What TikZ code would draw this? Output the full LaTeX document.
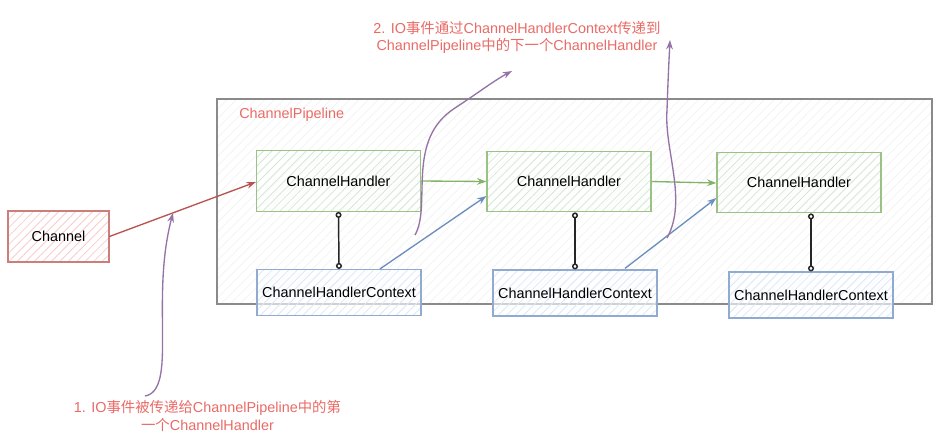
\documentclass[tikz,border=0pt]{standalone}
\usepackage{fontspec}
\setmainfont{Liberation Sans}
\newfontfamily\cjk{Noto Sans CJK SC}
\usetikzlibrary{arrows.meta,patterns.meta,calc}
\definecolor{redS}{HTML}{B85450}
\definecolor{redF}{HTML}{F8CECC}
\definecolor{greenS}{HTML}{82B366}
\definecolor{greenF}{HTML}{D5E8D4}
\definecolor{blueS}{HTML}{6C8EBF}
\definecolor{blueF}{HTML}{DAE8FC}
\definecolor{purpleS}{HTML}{9673A6}
\definecolor{noteC}{HTML}{EA6B66}
\definecolor{pipeS}{HTML}{8A8A8A}
\begin{document}
\begin{tikzpicture}[x=0.75pt,y=-0.75pt,
  font=\fontsize{10.8}{13}\selectfont,
  hatch/.style={preaction={fill=white,fill opacity=0.6},
    pattern={Lines[angle=45,distance=4.5pt,line width=0.6pt]}},
  box/.style={draw, line width=0.9pt, inner sep=0pt, anchor=center},
  chbox/.style={box, draw=redS!75, hatch, pattern color=redF},
  hbox/.style={box, draw=greenS!80, hatch, pattern color=greenF, minimum width=123pt, minimum height=45.5pt},
  cbox/.style={box, draw=blueS!75, hatch, pattern color=blueF, minimum width=123pt, minimum height=34.5pt},
  redarrow/.style={draw=redS, line width=1pt, -{Stealth[length=7pt,width=5pt,open]}},
  greenarrow/.style={draw=greenS, line width=1pt, -{Stealth[length=7pt,width=5pt,open]}},
  bluearrow/.style={draw=blueS, line width=1pt, -{Stealth[length=7pt,width=5pt,open]}},
  purplearrow/.style={draw=purpleS, line width=1pt, -{Stealth[length=7pt,width=5pt,open]}},
  link/.style={draw=black!85, line width=1.1pt, {Circle[open,length=4.5pt]}-{Circle[open,length=4.5pt]}},
  note/.style={text=noteC, align=center, inner sep=0pt}
]
\useasboundingbox (0,0) rectangle (946,440);
\fill[white] (0,0) rectangle (946,440);

% pipeline container
\node[draw=pipeS, line width=0.8pt, pattern={Lines[angle=45,distance=5pt,line width=0.4pt]}, pattern color=black!6,
  minimum width=536.25pt, minimum height=153.75pt, inner sep=0pt] (pipe) at (574.5,201.5) {};
\node[note, anchor=west] (pipelabel) at (239,115) {ChannelPipeline};

% channel
\node[chbox, minimum width=75.75pt, minimum height=38.25pt] (ch) at (58.5,236.5) {Channel};

% handlers
\node[hbox] (h1) at (338.5,181) {ChannelHandler};
\node[hbox] (h2) at (569,181.5) {ChannelHandler};
\node[hbox] (h3) at (799,182.5) {ChannelHandler};

% contexts
\node[cbox] (c1) at (339,292.5) {ChannelHandlerContext};
\node[cbox] (c2) at (575,293) {ChannelHandlerContext};
\node[cbox] (c3) at (811,295) {ChannelHandlerContext};

% connectors
\draw[redarrow] (ch.east) -- ($(h1.west)+(0,1)$);
\draw[greenarrow] (h1.east) -- (h2.west);
\draw[greenarrow] (h2.east) -- ($(h3.west)+(0,0.5)$);
\draw[bluearrow] ($(c1.north)+(41,0)$) -- ($(h2.west)+(0,14.5)$);
\draw[bluearrow] ($(c2.north)+(50,-1)$) -- ($(h3.west)+(0,15.5)$);
\draw[link] (h1.south) -- (c1.north);
\draw[link] ($(h2.south)+(6,0)$) -- (c2.north);
\draw[link] ($(h3.south)+(12,0)$) -- (c3.north);

% annotations
\node[note] (n1) at (207.5,416) {1. IO{\cjk 事件被传递给}ChannelPipeline{\cjk 中的第}\\{\cjk 一个}ChannelHandler};
\node[note] (n2) at (517,37.5) {2. IO{\cjk 事件通过}ChannelHandlerContext{\cjk 传递到}\\ChannelPipeline{\cjk 中的下一个}ChannelHandler};

\coordinate (p1s) at (145,396);
\coordinate (p1e) at (173,213);
\coordinate (p2s) at (415,235);
\coordinate (p2e) at (512,71);
\coordinate (p3s) at (667,238);
\coordinate (p3e) at (670,40);
\draw[purplearrow] (p1s) .. controls (178,390) and (150,300) .. (p1e);
\draw[purplearrow] (p2s) .. controls (432,205) and (405,140) .. (455,108) .. controls (475,95) and (495,80) .. (p2e);
\draw[purplearrow] (p3s) .. controls (688,200) and (664,150) .. (667,110) .. controls (668,80) and (669,60) .. (p3e);
\end{tikzpicture}
\end{document}
